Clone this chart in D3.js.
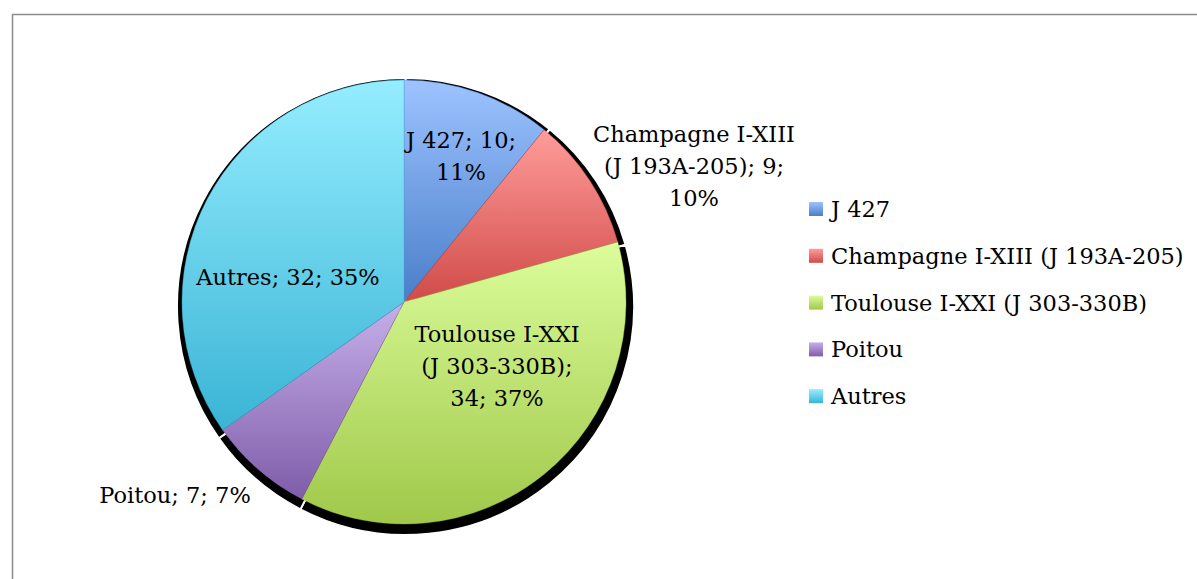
<!DOCTYPE html>
<html>
<head>
<meta charset="utf-8">
<script src="https://cdn.jsdelivr.net/npm/d3@7"></script>
<style>
  html, body { margin: 0; padding: 0; background: #fff; }
  svg { display: block; }
  text { font-family: "DejaVu Serif", "Liberation Serif", serif; fill: #000; }
</style>
</head>
<body>
<svg id="chart" width="1197" height="579"></svg>
<script>
// Archive series and their counts
const categories = ["J 427", "Champagne I-XIII (J 193A-205)", "Toulouse I-XXI (J 303-330B)", "Poitou", "Autres"];
const values = [10, 9, 34, 7, 32];
const percentLabels = ["11%", "10%", "37%", "7%", "35%"];
// Data label lines as printed next to each slice
const labelLines = [
  ["J 427; 10;", "11%"],
  ["Champagne I-XIII", "(J 193A-205); 9;", "10%"],
  ["Toulouse I-XXI", "(J 303-330B);", "34; 37%"],
  ["Poitou; 7; 7%"],
  ["Autres; 32; 35%"]
];
// Gradient stops per slice: light top, darker bottom
const colorTop = ["#9DC3FF", "#FF9C9A", "#DCFD9B", "#C6AFEA", "#95EDFF"];
const colorBottom = ["#4A7EC9", "#D04B48", "#A0C84A", "#7F5DA9", "#3AB4D5"];

const svg = d3.select("#chart");
const W = 1197, H = 579;

// Chart frame
svg.append("rect")
  .attr("x", 12.5).attr("y", 14.5)
  .attr("width", W + 20).attr("height", H + 20)
  .attr("fill", "#fff").attr("stroke", "#8c8c8c").attr("stroke-width", 1.5);

const defs = svg.append("defs");
categories.forEach((c, i) => {
  const g = defs.append("linearGradient")
    .attr("id", "grad" + i)
    .attr("x1", 0).attr("y1", 0).attr("x2", 0).attr("y2", 1);
  g.append("stop").attr("offset", "0%").attr("stop-color", colorTop[i]);
  g.append("stop").attr("offset", "100%").attr("stop-color", colorBottom[i]);
});

const cx = 404, cy = 302, r = 222;
const pie = d3.pie().sort(null).value(d => d);
const arcs = pie(values);
const arc = d3.arc().innerRadius(0).outerRadius(r);
const shadowArc = d3.arc().innerRadius(0).outerRadius(r + 6.5);

// Hard drop shadow under each slice
const shadow = svg.append("g").attr("transform", `translate(${cx + 1.5},${cy + 4.5})`);
shadow.selectAll("path").data(arcs).join("path")
  .attr("d", shadowArc)
  .attr("fill", "#000")
  .attr("stroke", "#fff")
  .attr("stroke-width", 2);

const pieG = svg.append("g").attr("transform", `translate(${cx},${cy})`);
pieG.selectAll("path").data(arcs).join("path")
  .attr("d", arc)
  .attr("fill", (d, i) => `url(#grad${i})`)
  .attr("stroke", (d, i) => colorBottom[i])
  .attr("stroke-width", 0.4);

// Data labels
const labelPos = [
  [461, 140], [694, 134], [497, 334], [175, 495], [288, 277]
];
const fs = 22.5, lh = 32;
labelLines.forEach((lines, i) => {
  const t = svg.append("text")
    .attr("text-anchor", "middle")
    .attr("font-size", fs);
  lines.forEach((ln, k) => {
    t.append("tspan")
      .attr("x", labelPos[i][0])
      .attr("y", labelPos[i][1] + k * lh + 8)
      .text(ln);
  });
});

// Legend
const legend = svg.append("g").attr("transform", "translate(809,209)");
const item = legend.selectAll("g").data(categories).join("g")
  .attr("transform", (d, i) => `translate(0,${i * 46.8})`);
item.append("rect")
  .attr("x", 0).attr("y", -7).attr("width", 14).attr("height", 14)
  .attr("fill", (d, i) => `url(#grad${i})`);
item.append("text")
  .attr("x", 22).attr("y", 8)
  .attr("font-size", fs)
  .text(d => d);
</script>
</body>
</html>
